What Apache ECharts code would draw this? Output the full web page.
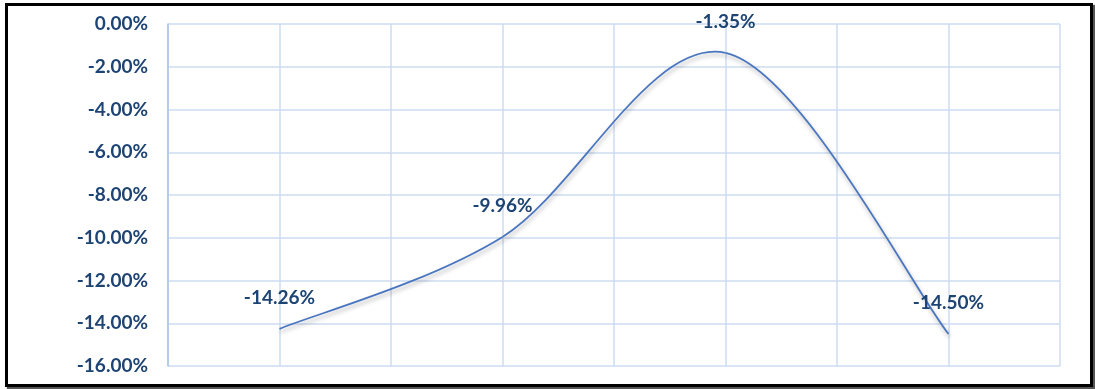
<!DOCTYPE html>
<html>
<head>
<meta charset="utf-8">
<script src="https://cdn.jsdelivr.net/npm/echarts@6/dist/echarts.min.js"></script>
<style>
html,body{margin:0;padding:0;background:#fff;}
#chart{position:absolute;left:0;top:0;width:1095px;height:389px;}
#frame{position:absolute;left:5px;top:3px;width:1082px;height:378px;border:3px solid #000;box-shadow:2px 2px 1px #555;pointer-events:none;}
</style>
</head>
<body>
<div id="chart"></div>
<div id="frame"></div>
<script>
// Data
var xPositions = [1, 3, 5, 7];
var values = [-14.26, -9.96, -1.35, -14.50];
var yTicks = [0, -2, -4, -6, -8, -10, -12, -14, -16];

var chart = echarts.init(document.getElementById('chart'));
var labelColor = '#1E4474';
var fontFam = 'Lato, "Open Sans", sans-serif';
var fontSize = 19;

function renderItem(params, api) {
  var i = params.dataIndex;
  var pts = xPositions.map(function (x, k) { return api.coord([x, values[k]]); });
  var n = pts.length;
  var children = [];
  var p1 = pts[i];
  if (i < n - 1) {
    var p0 = pts[Math.max(i - 1, 0)], p2 = pts[i + 1], p3 = pts[Math.min(i + 2, n - 1)];
    children.push({
      type: 'bezierCurve',
      shape: {
        x1: p1[0], y1: p1[1], x2: p2[0], y2: p2[1],
        cpx1: p1[0] + (p2[0] - p0[0]) / 6, cpy1: p1[1] + (p2[1] - p0[1]) / 6,
        cpx2: p2[0] - (p3[0] - p1[0]) / 6, cpy2: p2[1] - (p3[1] - p1[1]) / 6
      },
      style: {
        stroke: '#4A76C0', fill: null, lineWidth: 1.8,
        shadowColor: 'rgba(0,0,0,0.3)', shadowBlur: 4, shadowOffsetX: 1, shadowOffsetY: 3
      }
    });
  }
  children.push({
    type: 'text',
    x: p1[0], y: p1[1] - 31,
    style: {
      text: values[i].toFixed(2) + '%',
      fill: labelColor, fontSize: fontSize, fontWeight: 'bold', fontFamily: fontFam,
      align: 'center', verticalAlign: 'middle'
    }
  });
  return {type: 'group', children: children};
}

chart.setOption({
  animation: false,
  grid: {left: 168, top: 24, right: 35, bottom: 23},
  xAxis: {
    type: 'value', min: 0, max: 8, interval: 1,
    axisLabel: {show: false}, axisTick: {show: false},
    axisLine: {show: false},
    splitLine: {show: true, lineStyle: {color: '#CCDBF1', width: 1.5}}
  },
  yAxis: {
    type: 'value', min: yTicks[yTicks.length - 1], max: yTicks[0], interval: 2,
    axisLine: {show: true, onZero: false, lineStyle: {color: '#A9C4EC', width: 1.5}},
    axisTick: {show: false},
    splitLine: {show: true, lineStyle: {color: '#CCDBF1', width: 1.5}},
    axisLabel: {
      margin: 20, color: labelColor, fontWeight: 'bold', fontSize: fontSize, fontFamily: fontFam,
      formatter: function (v) { return v.toFixed(2) + '%'; }
    }
  },
  series: [{
    type: 'custom',
    renderItem: renderItem,
    clip: false,
    encode: {x: 0, y: 1},
    data: xPositions.map(function (x, i) { return [x, values[i]]; })
  }]
});
</script>
</body>
</html>
